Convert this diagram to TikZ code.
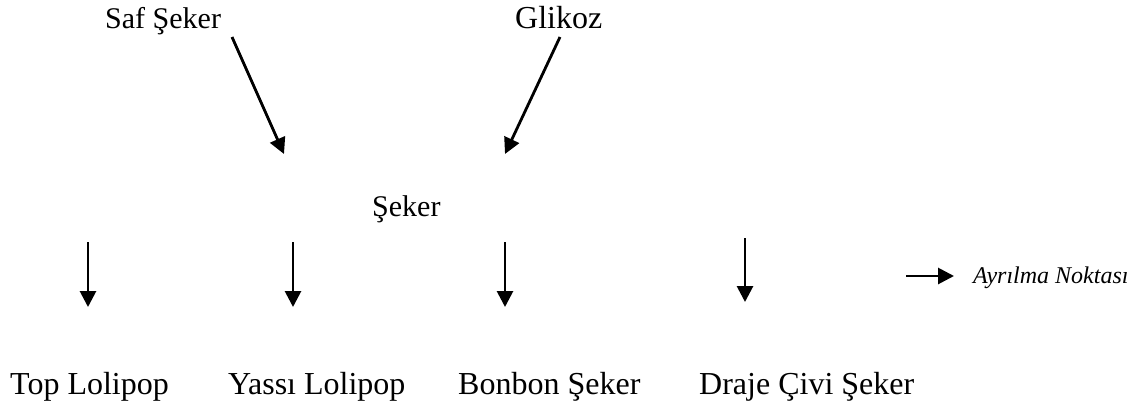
\documentclass[tikz,border=0pt]{standalone}
\usepackage{fontspec}
\setmainfont{Liberation Serif}
\usetikzlibrary{arrows.meta}
\begin{document}
\begin{tikzpicture}[x=1pt,y=-1pt,
  lbl/.style={anchor=base west,inner sep=0pt,font=\fontsize{30}{36}\selectfont},
  biglbl/.style={anchor=base west,inner sep=0pt,font=\fontsize{32}{38}\selectfont},
  legendlbl/.style={anchor=base west,inner sep=0pt,font=\fontsize{24}{29}\selectfont\itshape},
  flow/.style={line width=2.8pt,-{Triangle[length=16pt,width=16pt]}}]
\useasboundingbox (0,0) rectangle (1142,407);
% inputs
\node[lbl] (saf) at (105,28) {Saf Şeker};
\node[biglbl] (gli) at (515,28) {Glikoz};
\coordinate (safS) at (232,37);
\coordinate (safE) at (284,154);
\coordinate (gliS) at (560,37);
\coordinate (gliE) at (505,154);
\draw[flow] (safS) -- (safE);
\draw[flow] (gliS) -- (gliE);
% joint product
\node[lbl] (seker) at (372,216) {Şeker};
% split arrows
\foreach \n/\x/\a/\b in {a/88/242/307, b/293/242/307, c/505/242/307, d/745/238/302}{
  \coordinate (\n S) at (\x,\a);
  \coordinate (\n E) at (\x,\b);
  \draw[flow] (\n S) -- (\n E);
}
% products
\node[biglbl] (top) at (10,394) {Top Lolipop};
\node[biglbl] (yas) at (228,394) {Yassı Lolipop};
\node[biglbl] (bon) at (458,394) {Bonbon Şeker};
\node[biglbl] (dra) at (699,394) {Draje Çivi Şeker};
% legend
\coordinate (legS) at (906,276);
\coordinate (legE) at (954,276);
\draw[flow] (legS) -- (legE);
\node[legendlbl] (leg) at (973,283) {Ayrılma Noktası};
\end{tikzpicture}
\end{document}
